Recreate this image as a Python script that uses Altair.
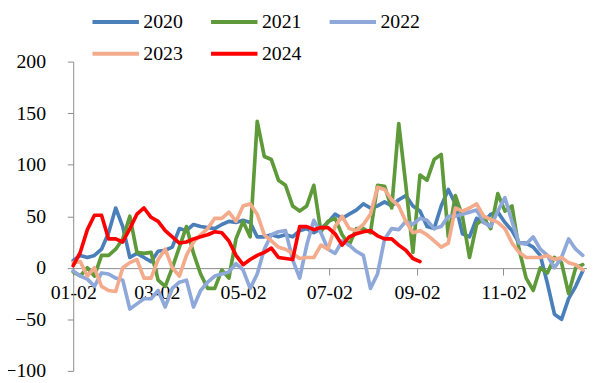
import altair as alt
import pandas as pd

# common 5-day date grid (month-day axis)
dates = pd.date_range("2021-01-02", periods=73, freq="5D")

years = ["2020", "2021", "2022", "2023", "2024"]

v2020 = [7, 12, 10, 12, 18, 34, 58, 40, 10, 14, 10, 6, 16, 17, 20, 38, 36, 42, 40, 39,
         38, 42, 45, 44, 46, 44, 30, 30, 32, 30, 32, 30, 36, 38, 34, 38, 44, 52, 48, 52,
         56, 62, 58, 60, 64, 60, 66, 70, 60, 55, 40, 38, 60, 76, 62, 33, 30, 48, 44, 52,
         54, 44, 36, 24, 24, 20, 12, -15, -45, -50, -30, -18, -3]

v2021 = [-4, -8, 0, -8, 12, 12, 18, 28, 50, 15, 14, 15, -12, -18, 0, 20, 40, 14, -6, -20,
         -20, -2, -10, 28, 45, 30, 142, 108, 105, 85, 80, 60, 55, 60, 80, 35, 45, 48, 32, 22,
         38, 38, 34, 80, 79, 58, 140, 80, 15, 90, 85, 105, 110, 30, 70, 50, 10, 42, 48, 38,
         72, 55, 60, 18, -10, -22, 0, -5, 10, 5, -25, 0, 3]

v2022 = [-3, -8, -11, -18, -5, -6, -10, -12, -40, -35, -30, -30, -22, -38, -20, -14, -12, -38, -22, -14,
         -8, -6, -4, 4, -2, -20, -6, 18, 32, 35, 36, 8, -10, 22, 46, 34, 18, 14, 26, 22,
         16, 12, -20, -6, 28, 38, 37, 45, 42, 48, 46, 38, 40, 50, 50, 52, 54, 56, 44, 40,
         55, 68, 45, 24, 23, 30, 18, 12, 0, 10, 28, 18, 12]

v2023 = [5, 6, -8, 0, -18, -22, -23, 0, 5, 8, -10, -10, 8, 18, 0, -8, 12, 25, 32, 38,
         48, 48, 54, 45, 60, 62, 52, 32, 26, 20, 18, 14, 9, 10, 10, 22, 18, 40, 50, 38,
         36, 42, 52, 78, 76, 66, 60, 45, 34, 36, 32, 26, 20, 24, 58, 55, 58, 62, 50, 47,
         44, 38, 24, 15, 10, 10, 10, 12, 8, 10, 5, 3, -2]

v2024 = [2, 15, 37, 51, 51, 28, 28, 25, 38, 52, 58, 49, 45, 36, 30, 24, 25, 28, 30, 32,
         35, 34, 26, 12, 3, 8, 12, 15, 19, 10, 9, 8, 40, 40, 37, 39, 39, 33, 22, 30,
         33, 35, 36, 31, 28, 28, 22, 17, 9, 6]

colors = ["#4A7FBA", "#5E9A3A", "#8EA8DA", "#F3AB8B", "#FF0000"]

series = {"2020": v2020, "2021": v2021, "2022": v2022, "2023": v2023, "2024": v2024}
rows = []
for name, vals in series.items():
    for d, v in zip(dates, vals):
        rows.append({"date": d, "year": name, "value": v})
df = pd.DataFrame(rows)

font = "Liberation Serif"
tick_dates = [alt.DateTime(year=2021, month=m, date=2) for m in (1, 3, 5, 7, 9, 11)]

chart = alt.Chart(df).mark_line(
    strokeWidth=3.7, strokeJoin="round", strokeCap="round"
).encode(
    x=alt.X(
        "date:T",
        scale=alt.Scale(domain=[alt.DateTime(year=2021, month=1, date=2),
                                alt.DateTime(year=2021, month=12, date=31)]),
        axis=alt.Axis(
            title=None, values=tick_dates, format="%m-%d", formatType="time",
            offset=-104, tickSize=7, labelPadding=8, domainColor="#8C8C8C",
            tickColor="#8C8C8C", labelFont=font, labelFontSize=20, labelColor="#000000",
            grid=False, labelFlush=False, labelOverlap=False,
        ),
    ),
    y=alt.Y(
        "value:Q",
        scale=alt.Scale(domain=[-100, 200], nice=False, zero=False),
        axis=alt.Axis(
            title=None, values=[-100, -50, 0, 50, 100, 150, 200], tickSize=6,
            labelPadding=22, domainColor="#8C8C8C", tickColor="#8C8C8C",
            labelFont=font, labelFontSize=20, labelColor="#000000", grid=False,
        ),
    ),
    color=alt.Color(
        "year:N",
        scale=alt.Scale(domain=years, range=colors),
        legend=alt.Legend(
            title=None, orient="none", legendX=29, legendY=-54, direction="horizontal",
            columns=3, symbolType="M-2,0L2,0", symbolStrokeWidth=4, symbolSize=552,
            labelFont=font, labelFontSize=20, labelColor="#000000", labelOffset=14,
            columnPadding=20, rowPadding=8,
        ),
    ),
).properties(
    width=520,
    height=313,
    autosize=alt.AutoSizeParams(type="none"),
    padding={"left": 66, "top": 52, "right": 0, "bottom": 9},
).configure_view(stroke=None)

chart.save("out.html", embed_options={"renderer": "svg", "actions": False})
